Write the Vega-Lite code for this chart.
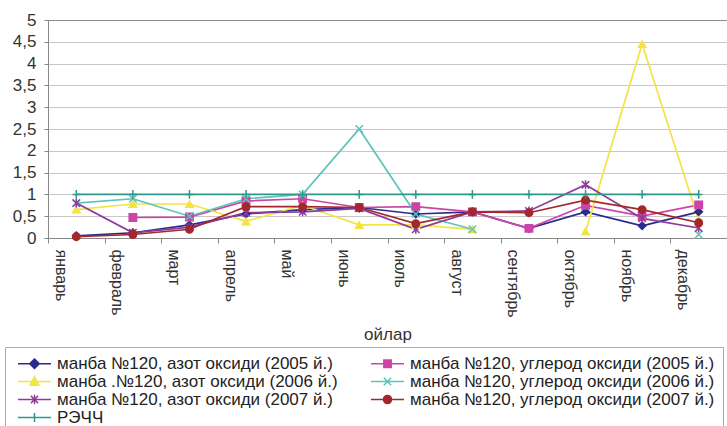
{
  "$schema": "https://vega.github.io/schema/vega-lite/v6.json",
  "width": 679,
  "height": 218,
  "autosize": "none",
  "padding": {"left": 48, "top": 20, "right": 0, "bottom": 188},
  "background": "white",
  "config": {"view": {"stroke": null}, "font": "Liberation Sans"},
  "data": {"values": [
    {"month": "январь", "series": "манба №120, азот оксиди (2005 й.)", "value": 0.05},
    {"month": "февраль", "series": "манба №120, азот оксиди (2005 й.)", "value": 0.12},
    {"month": "март", "series": "манба №120, азот оксиди (2005 й.)", "value": 0.3},
    {"month": "апрель", "series": "манба №120, азот оксиди (2005 й.)", "value": 0.55},
    {"month": "май", "series": "манба №120, азот оксиди (2005 й.)", "value": 0.65},
    {"month": "июнь", "series": "манба №120, азот оксиди (2005 й.)", "value": 0.7},
    {"month": "июль", "series": "манба №120, азот оксиди (2005 й.)", "value": 0.55},
    {"month": "август", "series": "манба №120, азот оксиди (2005 й.)", "value": 0.6},
    {"month": "сентябрь", "series": "манба №120, азот оксиди (2005 й.)", "value": 0.22},
    {"month": "октябрь", "series": "манба №120, азот оксиди (2005 й.)", "value": 0.6},
    {"month": "ноябрь", "series": "манба №120, азот оксиди (2005 й.)", "value": 0.28},
    {"month": "декабрь", "series": "манба №120, азот оксиди (2005 й.)", "value": 0.6},

    {"month": "январь", "series": "манба №120, углерод оксиди (2005 й.)", "value": null},
    {"month": "февраль", "series": "манба №120, углерод оксиди (2005 й.)", "value": 0.47},
    {"month": "март", "series": "манба №120, углерод оксиди (2005 й.)", "value": 0.48},
    {"month": "апрель", "series": "манба №120, углерод оксиди (2005 й.)", "value": 0.85},
    {"month": "май", "series": "манба №120, углерод оксиди (2005 й.)", "value": 0.9},
    {"month": "июнь", "series": "манба №120, углерод оксиди (2005 й.)", "value": 0.7},
    {"month": "июль", "series": "манба №120, углерод оксиди (2005 й.)", "value": 0.72},
    {"month": "август", "series": "манба №120, углерод оксиди (2005 й.)", "value": 0.6},
    {"month": "сентябрь", "series": "манба №120, углерод оксиди (2005 й.)", "value": 0.22},
    {"month": "октябрь", "series": "манба №120, углерод оксиди (2005 й.)", "value": 0.75},
    {"month": "ноябрь", "series": "манба №120, углерод оксиди (2005 й.)", "value": 0.5},
    {"month": "декабрь", "series": "манба №120, углерод оксиди (2005 й.)", "value": 0.76},

    {"month": "январь", "series": "манба .№120, азот оксиди (2006 й.)", "value": 0.65},
    {"month": "февраль", "series": "манба .№120, азот оксиди (2006 й.)", "value": 0.78},
    {"month": "март", "series": "манба .№120, азот оксиди (2006 й.)", "value": 0.78},
    {"month": "апрель", "series": "манба .№120, азот оксиди (2006 й.)", "value": 0.38},
    {"month": "май", "series": "манба .№120, азот оксиди (2006 й.)", "value": 0.75},
    {"month": "июнь", "series": "манба .№120, азот оксиди (2006 й.)", "value": 0.3},
    {"month": "июль", "series": "манба .№120, азот оксиди (2006 й.)", "value": 0.3},
    {"month": "август", "series": "манба .№120, азот оксиди (2006 й.)", "value": 0.2},
    {"month": "сентябрь", "series": "манба .№120, азот оксиди (2006 й.)", "value": null},
    {"month": "октябрь", "series": "манба .№120, азот оксиди (2006 й.)", "value": 0.15},
    {"month": "ноябрь", "series": "манба .№120, азот оксиди (2006 й.)", "value": 4.45},
    {"month": "декабрь", "series": "манба .№120, азот оксиди (2006 й.)", "value": 0.4},

    {"month": "январь", "series": "манба №120, углерод оксиди (2006 й.)", "value": 0.8},
    {"month": "февраль", "series": "манба №120, углерод оксиди (2006 й.)", "value": 0.9},
    {"month": "март", "series": "манба №120, углерод оксиди (2006 й.)", "value": 0.5},
    {"month": "апрель", "series": "манба №120, углерод оксиди (2006 й.)", "value": 0.9},
    {"month": "май", "series": "манба №120, углерод оксиди (2006 й.)", "value": 1.0},
    {"month": "июнь", "series": "манба №120, углерод оксиди (2006 й.)", "value": 2.5},
    {"month": "июль", "series": "манба №120, углерод оксиди (2006 й.)", "value": 0.55},
    {"month": "август", "series": "манба №120, углерод оксиди (2006 й.)", "value": 0.2},
    {"month": "сентябрь", "series": "манба №120, углерод оксиди (2006 й.)", "value": null},
    {"month": "октябрь", "series": "манба №120, углерод оксиди (2006 й.)", "value": null},
    {"month": "ноябрь", "series": "манба №120, углерод оксиди (2006 й.)", "value": null},
    {"month": "декабрь", "series": "манба №120, углерод оксиди (2006 й.)", "value": 0.08},

    {"month": "январь", "series": "манба №120, азот оксиди (2007 й.)", "value": 0.8},
    {"month": "февраль", "series": "манба №120, азот оксиди (2007 й.)", "value": 0.12},
    {"month": "март", "series": "манба №120, азот оксиди (2007 й.)", "value": 0.25},
    {"month": "апрель", "series": "манба №120, азот оксиди (2007 й.)", "value": 0.58},
    {"month": "май", "series": "манба №120, азот оксиди (2007 й.)", "value": 0.6},
    {"month": "июнь", "series": "манба №120, азот оксиди (2007 й.)", "value": 0.68},
    {"month": "июль", "series": "манба №120, азот оксиди (2007 й.)", "value": 0.2},
    {"month": "август", "series": "манба №120, азот оксиди (2007 й.)", "value": 0.6},
    {"month": "сентябрь", "series": "манба №120, азот оксиди (2007 й.)", "value": 0.62},
    {"month": "октябрь", "series": "манба №120, азот оксиди (2007 й.)", "value": 1.22},
    {"month": "ноябрь", "series": "манба №120, азот оксиди (2007 й.)", "value": 0.45},
    {"month": "декабрь", "series": "манба №120, азот оксиди (2007 й.)", "value": 0.23},

    {"month": "январь", "series": "манба №120, углерод оксиди (2007 й.)", "value": 0.03},
    {"month": "февраль", "series": "манба №120, углерод оксиди (2007 й.)", "value": 0.08},
    {"month": "март", "series": "манба №120, углерод оксиди (2007 й.)", "value": 0.2},
    {"month": "апрель", "series": "манба №120, углерод оксиди (2007 й.)", "value": 0.72},
    {"month": "май", "series": "манба №120, углерод оксиди (2007 й.)", "value": 0.72},
    {"month": "июнь", "series": "манба №120, углерод оксиди (2007 й.)", "value": 0.7},
    {"month": "июль", "series": "манба №120, углерод оксиди (2007 й.)", "value": 0.33},
    {"month": "август", "series": "манба №120, углерод оксиди (2007 й.)", "value": 0.6},
    {"month": "сентябрь", "series": "манба №120, углерод оксиди (2007 й.)", "value": 0.58},
    {"month": "октябрь", "series": "манба №120, углерод оксиди (2007 й.)", "value": 0.87},
    {"month": "ноябрь", "series": "манба №120, углерод оксиди (2007 й.)", "value": 0.65},
    {"month": "декабрь", "series": "манба №120, углерод оксиди (2007 й.)", "value": 0.35},

    {"month": "январь", "series": "РЭЧЧ", "value": 1},
    {"month": "февраль", "series": "РЭЧЧ", "value": 1},
    {"month": "март", "series": "РЭЧЧ", "value": 1},
    {"month": "апрель", "series": "РЭЧЧ", "value": 1},
    {"month": "май", "series": "РЭЧЧ", "value": 1},
    {"month": "июнь", "series": "РЭЧЧ", "value": 1},
    {"month": "июль", "series": "РЭЧЧ", "value": 1},
    {"month": "август", "series": "РЭЧЧ", "value": 1},
    {"month": "сентябрь", "series": "РЭЧЧ", "value": 1},
    {"month": "октябрь", "series": "РЭЧЧ", "value": 1},
    {"month": "ноябрь", "series": "РЭЧЧ", "value": 1},
    {"month": "декабрь", "series": "РЭЧЧ", "value": 1}
  ]},
  "encoding": {
    "x": {
      "field": "month", "type": "ordinal",
      "sort": ["январь", "февраль", "март", "апрель", "май", "июнь", "июль", "август", "сентябрь", "октябрь", "ноябрь", "декабрь"],
      "scale": {"type": "band", "paddingInner": 0, "paddingOuter": 0},
      "axis": {
        "title": "ойлар", "titleFontSize": 17, "titleFontWeight": "normal", "titleColor": "#333", "titlePadding": 9,
        "labelAngle": 90, "labelFontSize": 16, "labelColor": "#333", "labelPadding": 6, "labelOffset": -16,
        "tickBand": "extent", "tickSize": 5, "tickColor": "#888", "domainColor": "#888", "grid": false
      }
    },
    "y": {
      "field": "value", "type": "quantitative",
      "scale": {"domain": [0, 5], "nice": false},
      "axis": {
        "title": null,
        "values": [0, 0.5, 1, 1.5, 2, 2.5, 3, 3.5, 4, 4.5, 5],
        "labelExpr": "replace(format(datum.value, '~g'), '.', ',')",
        "labelFontSize": 17, "labelColor": "#333", "labelPadding": 8,
        "tickSize": 4, "tickColor": "#888", "domainColor": "#888",
        "gridColor": {"condition": {"test": "datum.value == 5", "value": "#8a8a8a"}, "value": "#c8c8c8"}
      }
    }
  },
  "layer": [
    {
      "mark": {"type": "line", "strokeWidth": 1.7, "invalid": "break-paths-show-domains"},
      "encoding": {
        "color": {
          "field": "series", "type": "nominal",
          "scale": {
            "domain": ["манба №120, азот оксиди (2005 й.)", "манба .№120, азот оксиди (2006 й.)", "манба №120, азот оксиди (2007 й.)", "РЭЧЧ", "манба №120, углерод оксиди (2005 й.)", "манба №120, углерод оксиди (2006 й.)", "манба №120, углерод оксиди (2007 й.)"],
            "range": ["#2b2b8c", "#f2e445", "#8e3a98", "#2b9a8c", "#cc44a8", "#5cc4ba", "#a3282d"]
          },
          "legend": {
            "title": null, "orient": "none", "legendX": -43, "legendY": 327,
            "columns": 2, "columnPadding": 28, "rowPadding": 0, "padding": 8,
            "strokeColor": "#aaa", "fillColor": "white",
            "labelFontSize": 17, "labelColor": "#222", "labelLimit": 500,
            "symbolSize": 54, "symbolOffset": 13, "labelOffset": 14, "symbolStrokeWidth": 1.5,
            "encode": {
              "symbols": {
                "update": {
                  "shape": {"signal": "['M-4.5,0H4.5M0,-1.3L1.3,0L0,1.3L-1.3,0Z', 'M-4.5,0H4.5M0,-1.3L1.2,1L-1.2,1Z', 'M-4.5,0H4.5M-1,-1L1,1M-1,1L1,-1M0,-1.3V1.3', 'M-4.5,0H4.5M0,-1.2V1.2', 'M-4.5,0H4.5M-1,-1H1V1H-1Z', 'M-4.5,0H4.5M-1,-1L1,1M-1,1L1,-1', 'M-4.5,0H4.5M1.1,0A1.1,1.1,0,1,1,-1.1,0A1.1,1.1,0,1,1,1.1,0Z'][indexof(['манба №120, азот оксиди (2005 й.)', 'манба .№120, азот оксиди (2006 й.)', 'манба №120, азот оксиди (2007 й.)', 'РЭЧЧ', 'манба №120, углерод оксиди (2005 й.)', 'манба №120, углерод оксиди (2006 й.)', 'манба №120, углерод оксиди (2007 й.)'], datum.value)]"},
                  "fill": {"signal": "scale('color', datum.value)"},
                  "strokeWidth": {"value": 1.5},
                  "opacity": {"value": 1}
                }
              }
            }
          }
        }
      }
    },
    {
      "mark": {"type": "point", "filled": true, "size": 55, "strokeWidth": 1.5, "opacity": 1},
      "encoding": {
        "shape": {
          "field": "series", "type": "nominal",
          "scale": {
            "domain": ["манба №120, азот оксиди (2005 й.)", "манба №120, углерод оксиди (2005 й.)", "манба .№120, азот оксиди (2006 й.)", "манба №120, углерод оксиди (2006 й.)", "манба №120, азот оксиди (2007 й.)", "манба №120, углерод оксиди (2007 й.)", "РЭЧЧ"],
            "range": ["diamond", "square", "triangle-up", "M-1,-1L1,1M-1,1L1,-1", "M-1,-1L1,1M-1,1L1,-1M0,-1.2V1.2", "circle", "M-1,0H1M0,-1.2V1.2"]
          },
          "legend": null
        },
        "fill": {
          "field": "series", "type": "nominal",
          "scale": {
            "domain": ["манба №120, азот оксиди (2005 й.)", "манба №120, углерод оксиди (2005 й.)", "манба .№120, азот оксиди (2006 й.)", "манба №120, углерод оксиди (2006 й.)", "манба №120, азот оксиди (2007 й.)", "манба №120, углерод оксиди (2007 й.)", "РЭЧЧ"],
            "range": ["#2b2b8c", "#cc44a8", "#f2e445", "#5cc4ba", "#8e3a98", "#a3282d", "#2b9a8c"]
          },
          "legend": null
        },
        "stroke": {
          "field": "series", "type": "nominal",
          "scale": {
            "domain": ["манба №120, азот оксиди (2005 й.)", "манба №120, углерод оксиди (2005 й.)", "манба .№120, азот оксиди (2006 й.)", "манба №120, углерод оксиди (2006 й.)", "манба №120, азот оксиди (2007 й.)", "манба №120, углерод оксиди (2007 й.)", "РЭЧЧ"],
            "range": ["#2b2b8c", "#cc44a8", "#f2e445", "#5cc4ba", "#8e3a98", "#a3282d", "#2b9a8c"]
          },
          "legend": null
        }
      }
    }
  ]
}
